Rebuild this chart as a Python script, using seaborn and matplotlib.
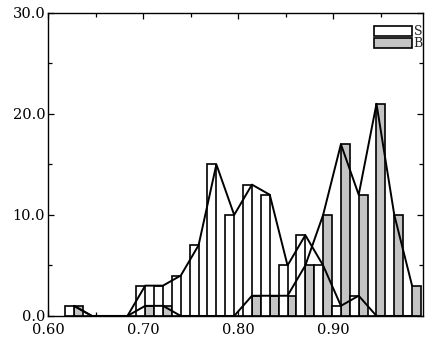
import numpy as np
import pandas as pd
import matplotlib
matplotlib.use("Agg")
import matplotlib.pyplot as plt
from matplotlib.patches import Patch
from matplotlib.ticker import MultipleLocator, FormatStrFormatter
import seaborn as sns

# histogram contents, 20 bins (S = white, B = grey)
s_counts = [1, 0, 0, 0, 3, 3, 4, 7, 15, 10, 13, 12, 5, 8, 5, 1, 2, 0, 0, 0]
b_counts = [1, 0, 0, 0, 1, 1, 0, 0, 0, 0, 2, 2, 2, 5, 10, 17, 12, 21, 10, 3]
series = ["S", "B"]
x_ticks = [0.60, 0.70, 0.80, 0.90]
y_ticks = [0.0, 10.0, 20.0, 30.0]

# bin layout
bin_lo = 0.618
bin_w = 0.0187
edges = bin_lo + bin_w * np.arange(len(s_counts) + 1)
centers = (edges[:-1] + edges[1:]) / 2

df = pd.DataFrame({
    "x": np.concatenate([centers, centers]),
    "count": s_counts + b_counts,
    "series": ["S"] * len(s_counts) + ["B"] * len(b_counts),
})

sns.set_style("ticks")
plt.rcParams["font.family"] = ["DejaVu Serif"]
plt.rcParams["font.size"] = 10.5

fig = plt.figure(figsize=(4.25, 3.39), dpi=100)
ax = fig.add_axes([0.113, 0.068, 0.882, 0.894])

sns.histplot(data=df, x="x", weights="count", hue="series", hue_order=series,
             bins=edges.tolist(), multiple="dodge", shrink=1, element="bars",
             palette={"S": "white", "B": "#c4c4c4"}, alpha=1,
             edgecolor="black", linewidth=1.2, legend=False, ax=ax)

sns.lineplot(data=df, x="x", y="count", hue="series", hue_order=series,
             palette={"S": "black", "B": "black"}, linewidth=1.4,
             legend=False, ax=ax)

ax.set_xlim(0.60, 0.994)
ax.set_ylim(0, 30)
ax.set_xticks(x_ticks)
ax.set_yticks(y_ticks)
ax.xaxis.set_minor_locator(MultipleLocator(0.05))
ax.yaxis.set_minor_locator(MultipleLocator(5))
ax.xaxis.set_major_formatter(FormatStrFormatter("%.2f"))
ax.yaxis.set_major_formatter(FormatStrFormatter("%.1f"))
ax.set_xlabel("")
ax.set_ylabel("")

ax.tick_params(which="both", direction="in", top=True, right=True,
               width=0.9, colors="black", labelsize=10.5)
ax.tick_params(which="major", length=4)
ax.tick_params(which="minor", length=3)
ax.tick_params(axis="x", pad=5)
ax.tick_params(axis="y", pad=2)
for sp in ax.spines.values():
    sp.set_linewidth(1.0)
    sp.set_color("black")

handles = [Patch(facecolor="white", edgecolor="black", linewidth=1.2),
           Patch(facecolor="#c4c4c4", edgecolor="black", linewidth=1.2)]
ax.legend(handles, series, loc="upper right", bbox_to_anchor=(1.0, 0.96),
          frameon=False, fontsize=9, handlelength=3.0, handleheight=0.85,
          labelspacing=-0.05, handletextpad=0.15, borderpad=0, borderaxespad=0)

fig.savefig("out.png", dpi=100)
